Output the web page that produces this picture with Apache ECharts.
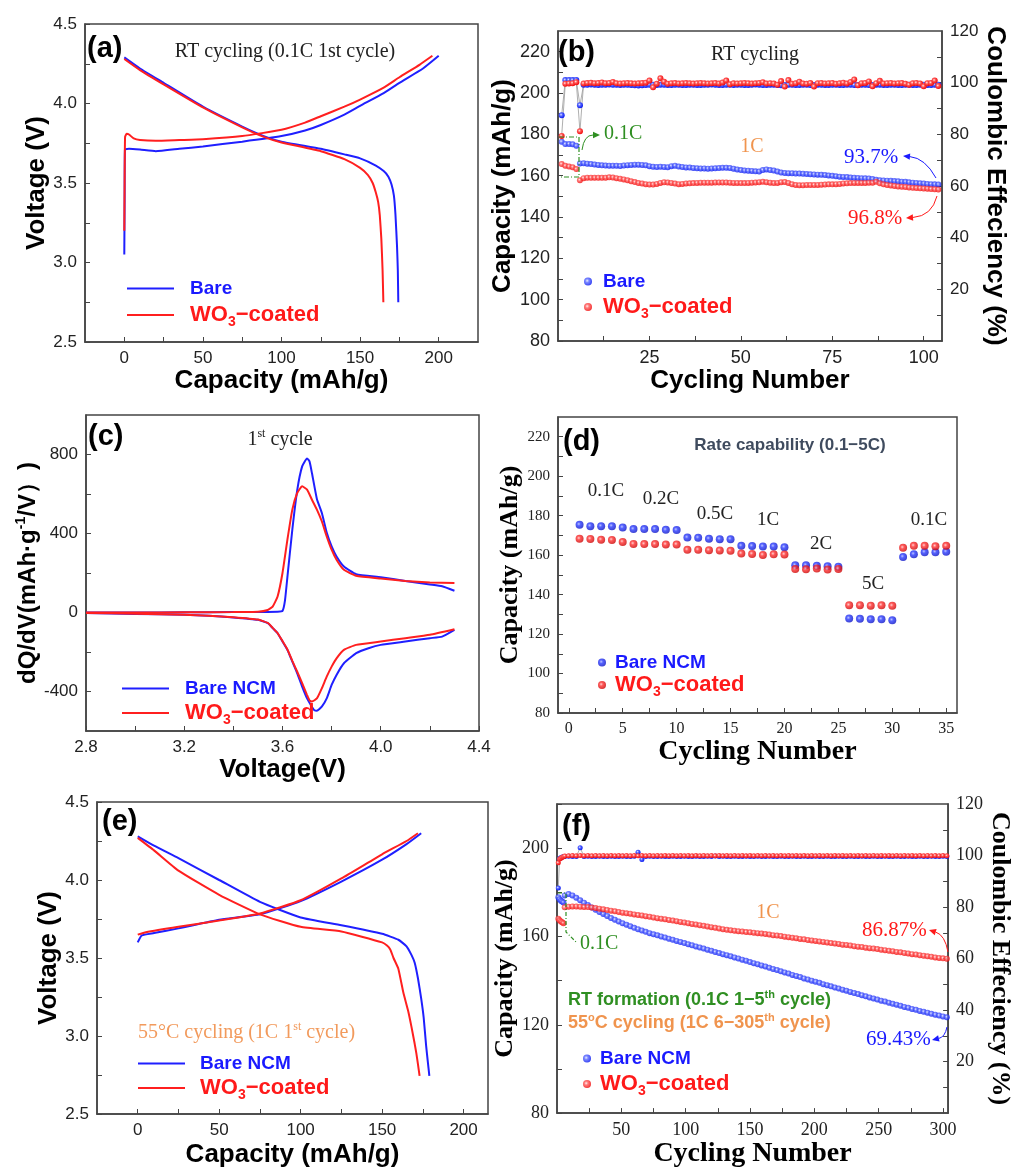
<!DOCTYPE html>
<html>
<head>
<meta charset="utf-8">
<script src="https://cdn.jsdelivr.net/npm/echarts/dist/echarts.min.js"></script>
<style>
html, body { margin: 0; padding: 0; background: #fff; }
#main { width: 1014px; height: 1169px; }
</style>
</head>
<body>
<div id="main"></div>
<script>
var SANS = 'Liberation Sans, Arial, sans-serif';
var SERIF = 'Liberation Serif, Times New Roman, serif';
var BLUE = '#1a1aff';
var RED = '#ff1a1a';
var GREEN = '#2f8f22';
var ORANGE = '#f0944e';

// (a) RT 0.1C first cycle, [capacity, voltage]
var aBareCharge = [[0,3.05],[0.2,3.40],[0.4,3.71],[3,3.715],[10,3.71],[20,3.70],[35,3.715],[50,3.73],[75,3.76],[100,3.795],[115,3.83],[125,3.865],[140,3.93],[150,3.985],[165,4.065],[175,4.13],[190,4.22],[200,4.30]];
var aWO3Charge = [[0,3.20],[0.2,3.50],[0.5,3.79],[1.5,3.81],[3,3.805],[6,3.78],[10,3.77],[20,3.765],[35,3.77],[50,3.775],[75,3.795],[100,3.835],[115,3.88],[125,3.92],[140,3.98],[150,4.025],[165,4.10],[175,4.165],[188,4.245],[196,4.30]];
var aBareDischarge = [[0,4.29],[10,4.22],[25,4.13],[50,3.98],[75,3.855],[90,3.79],[100,3.76],[125,3.715],[140,3.68],[150,3.655],[160,3.61],[165,3.575],[168,3.54],[170,3.49],[171.5,3.42],[172.5,3.30],[173.5,3.10],[174,2.95],[174.3,2.75]];
var aWO3Discharge = [[0,4.28],[10,4.21],[25,4.12],[50,3.975],[75,3.85],[90,3.785],[100,3.755],[125,3.70],[140,3.65],[150,3.595],[155,3.55],[158,3.50],[160,3.44],[161.5,3.38],[162.5,3.30],[163.5,3.15],[164.3,2.95],[164.8,2.75]];

// (b) RT cycling, cycles 1..104
var bBareCap = [176.4,175.3,175.3,175.2,174.5,
  165.9,166.0,165.8,165.6,165.4,
  165.2,165.0,164.9,164.8,164.8,164.8,164.7,164.9,165.1,165.2,
  165.3,165.3,165.2,165.0,164.6,164.3,164.2,164.3,164.2,164.1,
  164.6,164.8,164.4,164.2,164.0,163.9,163.7,163.6,163.5,163.5,
  163.4,163.5,163.6,163.7,163.8,163.8,163.7,163.4,163.0,162.7,
  162.5,162.4,162.3,162.1,162.0,162.7,163.0,162.7,162.5,162.0,
  161.5,161.3,161.2,161.2,161.0,161.0,160.9,160.8,160.7,160.6,
  160.5,160.4,160.3,160.1,159.9,159.7,159.5,159.4,159.3,159.1,
  159.0,158.9,158.8,158.7,158.6,158.4,158.0,157.8,157.7,157.6,
  157.5,157.4,157.3,157.1,157.0,156.8,156.6,156.5,156.3,156.2,
  156.0,155.9,155.8,155.7];
var bWO3Cap = [165.6,164.8,164.4,164.1,163.2,
  157.8,158.8,159.0,159.0,159.0,
  159.0,159.0,159.0,159.2,159.1,158.8,158.5,158.2,157.8,157.3,
  156.9,156.5,156.2,155.9,155.7,155.7,156.0,156.5,156.8,156.7,
  156.5,156.2,155.9,156.0,156.2,156.3,156.4,156.5,156.6,156.6,
  156.6,156.6,156.7,156.7,156.7,156.7,156.6,156.5,156.5,156.4,
  156.4,156.5,156.6,156.7,156.8,157.0,156.8,156.6,156.4,156.5,
  156.8,156.9,156.5,155.9,155.5,155.4,155.4,155.5,155.5,155.5,
  155.5,155.6,155.7,155.8,155.8,155.9,156.0,156.2,156.3,156.4,
  156.5,156.5,156.5,156.5,156.6,156.6,157.0,156.3,155.8,155.5,
  155.3,155.0,154.8,154.6,154.5,154.3,154.1,154.0,153.9,153.8,
  153.7,153.5,153.4,153.3];
var bBareCE = [87.4,101.0,101.0,101.0,101.0,91.3,
  99.2,99.2,99.3,99.2,99.1,99.2,99.2,99.3,99.2,99.2,
  99.1,99.2,99.2,99.1,99.0,98.9,99.0,99.1,99.2,99.2,
  99.1,99.2,99.2,99.1,99.1,99.2,99.2,99.1,99.1,99.2,
  99.2,99.1,99.1,99.2,99.2,99.3,99.2,99.1,99.1,99.2,
  99.2,99.1,99.2,99.2,99.1,99.1,99.2,99.3,99.2,99.1,
  99.1,99.2,99.2,99.1,99.0,99.1,99.2,99.2,99.1,99.1,
  99.2,99.2,99.1,99.1,99.2,99.2,99.1,99.1,99.2,99.2,
  99.1,99.1,99.2,99.2,99.1,99.1,99.2,99.2,99.1,99.1,
  99.2,99.2,99.1,99.1,99.2,99.2,99.1,99.1,99.2,99.2,
  99.1,99.1,99.2,99.2,99.1,99.1,99.2,99.2];
var bWO3CE = [79.4,99.6,99.7,99.8,100.2,81.2,
  99.7,99.9,100.0,99.8,99.9,100.1,99.8,99.9,100.3,99.8,
  99.7,99.8,99.9,99.8,99.7,99.8,99.9,100.0,100.8,98.2,
  99.6,101.7,100.4,99.6,99.8,99.9,99.7,99.8,99.9,99.8,
  99.7,99.8,99.9,99.8,99.7,99.8,99.9,99.7,100.1,100.8,
  99.4,99.8,99.7,99.8,99.9,99.8,99.7,99.8,99.9,100.2,
  99.7,99.8,99.7,99.2,100.6,98.5,101.0,99.6,99.8,100.4,
  99.7,99.6,99.9,98.5,99.8,99.9,99.7,99.8,99.9,99.6,
  99.8,100.0,99.7,100.3,101.2,99.0,99.8,99.9,100.5,98.6,
  99.8,100.7,99.7,99.8,99.9,99.7,99.8,99.9,99.6,99.2,
  99.8,99.9,99.7,98.6,99.8,99.9,100.8,98.7];

// (c) dQ/dV first cycle, [voltage, dQ/dV]
var cBareCharge = [[2.8,0],[3.0,0],[3.2,1],[3.4,2],[3.5,3],[3.58,4],[3.60,8],[3.61,60],[3.62,180],[3.64,420],[3.66,620],[3.68,740],[3.70,780],[3.71,765],[3.72,705],[3.74,575],[3.76,505],[3.78,405],[3.80,335],[3.82,284],[3.85,233],[3.90,194],[4.00,179],[4.10,160],[4.20,142],[4.25,133],[4.30,110]];
var cWO3Charge = [[2.8,0],[3.0,0],[3.2,1],[3.4,2],[3.5,4],[3.54,13],[3.56,30],[3.58,81],[3.60,200],[3.62,369],[3.64,521],[3.66,605],[3.68,639],[3.70,622],[3.72,571],[3.74,521],[3.76,462],[3.78,385],[3.80,318],[3.82,267],[3.85,216],[3.90,186],[4.00,172],[4.10,160],[4.20,152],[4.30,149]];
var cBareDischarge = [[4.30,-88],[4.25,-122],[4.20,-130],[4.10,-147],[4.00,-164],[3.95,-181],[3.90,-206],[3.85,-257],[3.82,-316],[3.80,-367],[3.78,-435],[3.76,-477],[3.74,-497],[3.73,-495],[3.72,-478],[3.70,-435],[3.68,-375],[3.66,-308],[3.64,-249],[3.62,-189],[3.60,-147],[3.58,-105],[3.56,-79],[3.54,-54],[3.50,-37],[3.40,-25],[3.30,-17],[3.20,-12],[3.00,-7],[2.80,-3]];
var cWO3Discharge = [[4.30,-85],[4.20,-113],[4.10,-130],[4.00,-147],[3.90,-164],[3.85,-189],[3.82,-232],[3.80,-274],[3.78,-325],[3.76,-384],[3.74,-435],[3.72,-451],[3.71,-445],[3.70,-418],[3.68,-358],[3.66,-300],[3.64,-245],[3.62,-187],[3.60,-145],[3.58,-104],[3.56,-78],[3.54,-53],[3.50,-36],[3.40,-24],[3.30,-16],[3.20,-11],[3.00,-6],[2.80,-2]];

// (d) rate capability, cycles 1..35
var dBareCap = [175.4,174.7,174.7,174.7,174.0,173.2,173.2,173.2,172.8,172.7,
  168.9,168.8,168.3,168.1,168.1,164.7,164.6,164.4,164.4,164.0,
  154.9,154.9,154.6,154.4,154.1,127.9,127.7,127.5,127.5,127.0,
  159.1,160.5,161.5,161.5,161.7];
var dWO3Cap = [168.3,168.2,167.8,167.7,166.7,165.7,165.6,165.6,165.4,165.4,
  162.7,162.7,162.5,162.4,162.2,160.8,160.6,160.1,160.4,160.3,
  153.0,152.9,153.2,152.7,153.0,134.6,134.6,134.4,134.6,134.3,
  163.7,164.7,164.7,164.5,164.7];
var dRateNames = ['0.1C','0.2C','0.5C','1C','2C','5C','0.1C'];

// (e) 55 C, 1C first cycle, [capacity, voltage]
var eBareCharge = [[0,3.60],[2.5,3.645],[10,3.66],[25,3.69],[50,3.745],[75,3.78],[100,3.865],[125,3.99],[150,4.13],[165,4.23],[174,4.30]];
var eWO3Charge = [[0,3.65],[5,3.665],[25,3.70],[50,3.74],[75,3.785],[100,3.87],[125,4.01],[150,4.165],[165,4.25],[172,4.30]];
var eBareDischarge = [[0,4.28],[10,4.22],[25,4.14],[50,4.00],[75,3.86],[100,3.76],[125,3.71],[150,3.655],[160,3.617],[165,3.575],[168,3.52],[170,3.47],[172,3.37],[174,3.24],[175.5,3.12],[177,2.94],[178,2.84],[179,2.745]];
var eWO3Discharge = [[0,4.27],[10,4.19],[25,4.06],[50,3.905],[75,3.78],[100,3.70],[125,3.67],[150,3.60],[153,3.58],[155,3.555],[157,3.50],[160,3.43],[163,3.28],[166,3.16],[168,3.06],[170,2.95],[171,2.89],[172,2.82],[173,2.745]];

// (f) 55 C long cycling
var fCycles = [1,2,3,4,5,
  6,9,12,15,18,21,24,27,30,33,36,39,42,45,48,51,54,57,60,63,
  66,69,72,75,78,81,84,87,90,93,96,99,102,105,108,111,114,117,120,123,
  126,129,132,135,138,141,144,147,150,153,156,159,162,165,168,171,174,177,180,183,
  186,189,192,195,198,201,204,207,210,213,216,219,222,225,228,231,234,237,240,243,
  246,249,252,255,258,261,264,267,270,273,276,279,282,285,288,291,294,297,300,303];
var fBareCap = [177.8,176.9,176.2,175.8,175.4,
  178.6,179.2,178.6,177.5,176.4,175.3,174.2,173.1,172.1,171.1,170.2,169.3,168.4,167.6,166.8,166.0,165.3,164.6,163.9,163.3,
  162.7,162.1,161.5,161.0,160.5,160.0,159.5,159.0,158.5,158.0,157.5,157.0,156.5,156.0,155.5,155.0,154.5,154.0,153.5,153.0,
  152.5,152.0,151.5,151.0,150.5,150.0,149.5,149.0,148.4,147.9,147.4,146.9,146.4,145.8,145.3,144.8,144.2,143.7,143.2,142.6,
  142.1,141.6,141.0,140.5,140.0,139.5,139.0,138.4,137.9,137.4,136.9,136.4,135.9,135.4,134.9,134.4,133.9,133.4,132.9,132.4,
  131.9,131.4,130.9,130.5,130.0,129.5,129.1,128.6,128.1,127.7,127.2,126.8,126.3,125.9,125.5,125.0,124.6,124.2,123.8,123.4];
var fWO3Cap = [168.0,167.3,166.8,166.4,166.0,
  173.2,173.5,173.6,173.6,173.5,173.4,173.3,173.1,172.9,172.6,172.3,172.0,171.7,171.4,171.1,170.8,170.5,170.3,170.0,169.7,
  169.5,169.2,168.9,168.6,168.3,168.0,167.8,167.5,167.2,166.9,166.6,166.3,166.0,165.7,165.4,165.1,164.8,164.5,164.2,163.9,
  163.6,163.3,163.0,162.8,162.6,162.4,162.2,162.0,161.9,161.7,161.5,161.3,161.1,160.9,160.6,160.4,160.2,159.9,159.7,159.4,
  159.2,158.9,158.7,158.4,158.2,158.0,157.7,157.5,157.3,157.0,156.8,156.6,156.3,156.1,155.9,155.6,155.4,155.2,154.9,154.7,
  154.5,154.3,154.0,153.8,153.5,153.3,153.0,152.8,152.5,152.3,152.0,151.8,151.5,151.3,151.0,150.8,150.5,150.3,150.1,149.9];
var fBareCE = [87.4,98.8,99.2,99.4,99.5,
  99.6,99.7,99.6,99.6,103.0,99.6,99.7,99.6,99.6,99.7,99.6,99.6,99.7,99.6,99.6,99.7,99.6,99.6,99.7,101.3,
  98.5,99.6,99.7,99.6,99.6,99.7,99.6,99.6,99.7,99.6,99.6,99.7,99.6,99.6,99.7,99.6,99.6,99.7,99.6,99.8,
  99.6,99.7,99.6,99.6,99.7,99.6,99.6,99.7,99.6,99.6,99.7,99.6,99.6,99.7,99.6,99.6,99.7,99.6,99.6,99.7,
  99.6,99.6,99.7,99.6,99.6,99.7,99.6,99.6,99.7,99.6,99.6,99.7,99.6,99.6,99.7,99.6,99.6,99.7,99.6,99.6,
  99.7,99.6,99.6,99.7,99.6,99.6,99.7,99.6,99.6,99.7,99.6,99.6,99.7,99.6,99.6,99.7,99.6,99.6,99.7,99.6];
var fWO3CE = [97.2,98.6,98.9,99.3,99.5,
  99.8,99.9,100.0,99.9,100.0,99.9,100.0,99.9,100.0,99.9,100.0,99.9,100.0,99.9,100.0,99.9,100.0,99.9,100.0,99.9,
  100.0,99.9,100.0,99.9,100.0,99.9,100.0,99.9,100.0,99.9,100.0,99.9,100.0,99.9,100.0,99.9,100.0,99.9,100.0,99.9,
  100.0,99.9,100.0,99.9,100.0,99.9,100.0,99.9,100.0,99.9,100.0,99.9,100.0,99.9,100.0,99.9,100.0,99.9,100.0,99.9,
  100.0,99.9,100.0,99.9,100.0,99.9,100.0,99.9,100.0,99.9,100.0,99.9,100.0,99.9,100.0,99.9,100.0,99.9,100.0,99.9,
  100.0,99.9,100.0,99.9,100.0,99.9,100.0,99.9,100.0,99.9,100.0,99.9,100.0,99.9,100.0,99.9,100.0,99.9,100.0,99.9];

function fixed1(v) { return v.toFixed(1); }
function plain(v) { return String(v); }

function axis(kind, grid, min, max, labels, ticks, fam, size, name, nameSize, gap, fmt, pos) {
    var a = {
        type: 'value',
        gridIndex: grid,
        min: min,
        max: max,
        name: name,
        nameLocation: 'middle',
        nameGap: gap,
        nameTextStyle: { fontFamily: fam, fontWeight: 'bold', fontSize: nameSize, color: '#000' },
        axisLine: { show: true, onZero: false, lineStyle: { color: '#444', width: 1.5 } },
        axisTick: { show: true, inside: true, length: 5, customValues: ticks, lineStyle: { color: '#444', width: 1 } },
        axisLabel: { customValues: labels, fontFamily: fam, fontSize: size, color: '#222', margin: 8, formatter: fmt || plain },
        splitLine: { show: false }
    };
    if (pos) a.position = pos;
    if (kind === 'y') a.nameRotate = (pos === 'right') ? -90 : 90;
    return a;
}

function ball(c0, c1, c2) {
    return new echarts.graphic.RadialGradient(0.4, 0.4, 0.65, [
        { offset: 0, color: c0 }, { offset: 0.35, color: c1 }, { offset: 1, color: c2 }
    ]);
}
var blueBall = function () { return ball('#e4e8ff', '#5a6aff', '#0010f0'); };
var redBall = function () { return ball('#ffecec', '#ff5a5a', '#f00000'); };
var blueSphere = function () { return ball('#aab4ff', '#2a3aff', '#0a12c0'); };
var redSphere = function () { return ball('#ffc4c4', '#ff3030', '#c80000'); };

function curve(name, xi, yi, data, color) {
    return { name: name, type: 'line', xAxisIndex: xi, yAxisIndex: yi, data: data, symbol: 'none',
        smooth: 0.15, lineStyle: { color: color, width: 2 }, itemStyle: { color: color }, z: 3 };
}
function dots(name, xi, yi, data, fill, size, joined) {
    var s = { name: name, type: joined ? 'line' : 'scatter', xAxisIndex: xi, yAxisIndex: yi, data: data,
        symbol: 'circle', symbolSize: size, itemStyle: { color: fill }, z: 3 };
    if (joined) {
        s.showAllSymbol = true;
        s.lineStyle = { color: '#9a9a9a', width: 0.8 };
    }
    return s;
}
function byCycle(values) {
    return values.map(function (v, i) { return [i + 1, v]; });
}
function withCycles(cycles, values) {
    return values.map(function (v, i) { return [cycles[i], v]; });
}

var legendRich = function (pad, size1) {
    return {
        g: { width: pad },
        bb: { fontFamily: SANS, fontWeight: 'bold', fontSize: size1, color: BLUE, lineHeight: 28 },
        rr: { fontFamily: SANS, fontWeight: 'bold', fontSize: 22, color: RED, lineHeight: 28 },
        rs: { fontFamily: SANS, fontWeight: 'bold', fontSize: 14, color: RED, lineHeight: 14, verticalAlign: 'bottom' }
    };
};
function legendItem(name, left, top, isLine, label, pad) {
    var text = label === 'WO3'
        ? '{g| }{rr|WO}{rs|3}{rr|\u2212coated}'
        : '{g| }{bb|' + label + '}';
    var l = {
        data: [name], left: left, top: top, padding: 0, orient: 'horizontal',
        selectedMode: false,
        icon: isLine ? 'rect' : 'circle',
        itemWidth: isLine ? 47 : 8, itemHeight: isLine ? 2 : 8,
        formatter: function () { return text; },
        textStyle: { rich: legendRich(pad, 19) }
    };
    return l;
}

function gtext(x, y, text, opt) {
    var st = { text: text, fill: '#000', align: 'left', verticalAlign: 'middle', fontFamily: SANS, fontSize: 16 };
    for (var k in opt) st[k] = opt[k];
    return { type: 'text', x: x, y: y, silent: true, z: 10, style: st };
}
function supRich(fam, size, weight, color) {
    return {
        a: { fontFamily: fam, fontSize: size, fontWeight: weight, fill: color, lineHeight: size + 4 },
        s: { fontFamily: fam, fontSize: Math.round(size * 0.6), fontWeight: weight, fill: color, lineHeight: Math.round(size * 0.6), verticalAlign: 'top' }
    };
}
function arrow(x1, y1, cx, cy, x2, y2, color) {
    var dx = x2 - cx, dy = y2 - cy, len = Math.sqrt(dx * dx + dy * dy);
    dx /= len; dy /= len;
    var bx = x2 - dx * 7, by = y2 - dy * 7;
    return [
        { type: 'bezierCurve', silent: true, z: 10, shape: { x1: x1, y1: y1, cpx1: cx, cpy1: cy, x2: bx, y2: by },
          style: { stroke: color, lineWidth: 1, fill: null } },
        { type: 'polygon', silent: true, z: 10, shape: { points: [[x2, y2], [bx - dy * 3.2, by + dx * 3.2], [bx + dy * 3.2, by - dx * 3.2]] },
          style: { fill: color } }
    ];
}

var labelsA = [2.5, 3.0, 3.5, 4.0, 4.5];
var ticksA = [2.5, 2.75, 3.0, 3.25, 3.5, 3.75, 4.0, 4.25, 4.5];
var capLabels = [0, 50, 100, 150, 200];
var capTicks = [0, 25, 50, 75, 100, 125, 150, 175, 200];

var chart = echarts.init(document.getElementById('main'));

var graphics = [
    gtext(87, 49, '(a)', { fontSize: 29, fontWeight: 'bold' }),
    gtext(558, 53, '(b)', { fontSize: 29, fontWeight: 'bold' }),
    gtext(88, 437, '(c)', { fontSize: 29, fontWeight: 'bold' }),
    gtext(563, 442, '(d)', { fontSize: 29, fontWeight: 'bold' }),
    gtext(102, 822, '(e)', { fontSize: 29, fontWeight: 'bold' }),
    gtext(562, 827, '(f)', { fontSize: 29, fontWeight: 'bold' }),
    gtext(285, 52, 'RT cycling (0.1C 1st cycle)', { fontFamily: SERIF, fontSize: 20, align: 'center', fill: '#222' }),
    gtext(755, 55, 'RT cycling', { fontFamily: SERIF, fontSize: 20, align: 'center', fill: '#222' }),
    gtext(604, 134, '0.1C', { fontFamily: SERIF, fontSize: 20, fill: GREEN }),
    gtext(752, 147, '1C', { fontFamily: SERIF, fontSize: 20, align: 'center', fill: ORANGE }),
    gtext(844, 157, '93.7%', { fontFamily: SERIF, fontSize: 21, fill: BLUE }),
    gtext(848, 218, '96.8%', { fontFamily: SERIF, fontSize: 21, fill: RED }),
    gtext(280, 440, '{a|1}{s|st}{a| cycle}', { align: 'center', rich: supRich(SERIF, 20, 'normal', '#222') }),
    gtext(790, 445, 'Rate capability (0.1\u22125C)', { fontWeight: 'bold', fontSize: 17, align: 'center', fill: '#3f4b5e' }),
    gtext(138, 1033, '{a|55\u00b0C cycling (1C 1}{s|st}{a| cycle)}', { rich: supRich(SERIF, 20, 'normal', '#f29a5c') }),
    gtext(580, 944, '0.1C', { fontFamily: SERIF, fontSize: 20, fill: GREEN }),
    gtext(768, 913, '1C', { fontFamily: SERIF, fontSize: 20, align: 'center', fill: ORANGE }),
    gtext(862, 930, '86.87%', { fontFamily: SERIF, fontSize: 21, fill: RED }),
    gtext(866, 1039, '69.43%', { fontFamily: SERIF, fontSize: 21, fill: BLUE }),
    gtext(568, 1000, '{a|RT formation (0.1C 1\u22125}{s|th}{a| cycle)}', { rich: supRich(SANS, 18, 'bold', GREEN) }),
    gtext(568, 1023, '{a|55}{s|o}{a|C cycling (1C 6\u2212305}{s|th}{a| cycle)}', { rich: supRich(SANS, 18, 'bold', ORANGE) }),
    { type: 'polyline', silent: true, z: 9, shape: { points: [[559, 137], [579, 137], [579, 177], [559, 177]] },
      style: { stroke: GREEN, lineWidth: 1.2, lineDash: [5, 2, 1, 2], fill: null } },
    { type: 'polyline', silent: true, z: 9, shape: { points: [[558, 893], [566, 893], [566, 932], [576, 942]] },
      style: { stroke: GREEN, lineWidth: 1.2, lineDash: [4, 2, 1, 2], fill: null } }
];
graphics = graphics
    .concat(arrow(582, 150, 584, 135, 600, 135, GREEN))
    .concat(arrow(936, 178, 925, 158, 903, 156, BLUE))
    .concat(arrow(937, 196, 932, 216, 906, 218, RED))
    .concat(arrow(948, 952, 945, 935, 929, 930, RED))
    .concat(arrow(947, 1027, 945, 1037, 932, 1040, BLUE));

// rate labels in (d)
var ratePos = [[606, 491], [661, 499], [715, 514], [768, 520], [821, 544], [873, 584], [929, 520]];
dRateNames.forEach(function (n, i) {
    graphics.push(gtext(ratePos[i][0], ratePos[i][1], n, { fontFamily: SERIF, fontSize: 19, align: 'center', fill: '#222' }));
});

var option = {
    animation: false,
    backgroundColor: '#fff',
    grid: [
        { left: 85, top: 24, width: 393, height: 318 },
        { left: 558, top: 31, width: 384, height: 310 },
        { left: 86, top: 415, width: 393, height: 316 },
        { left: 558, top: 417, width: 399, height: 296 },
        { left: 97, top: 802, width: 391, height: 313 },
        { left: 557, top: 804, width: 394, height: 312 }
    ].map(function (g) {
        g.show = true; g.borderColor = '#444'; g.borderWidth = 1.5; g.containLabel = false;
        return g;
    }),
    xAxis: [
        axis('x', 0, -25, 225, capLabels, capTicks, SANS, 17, 'Capacity (mAh/g)', 26, 25),
        axis('x', 1, 0, 105, [25, 50, 75, 100], [12.5, 25, 37.5, 50, 62.5, 75, 87.5, 100], SANS, 18, 'Cycling Number', 26, 27),
        axis('x', 2, 2.8, 4.4, [2.8, 3.2, 3.6, 4.0, 4.4], [2.8, 3.0, 3.2, 3.4, 3.6, 3.8, 4.0, 4.2, 4.4], SANS, 17, 'Voltage(V)', 26, 23, fixed1),
        axis('x', 3, -1, 36, [0, 5, 10, 15, 20, 25, 30, 35], [0, 2.5, 5, 7.5, 10, 12.5, 15, 17.5, 20, 22.5, 25, 27.5, 30, 32.5, 35], SERIF, 16, 'Cycling Number', 28, 23),
        axis('x', 4, -25, 215, capLabels, capTicks, SANS, 17, 'Capacity (mAh/g)', 26, 28),
        axis('x', 5, 0, 304, [50, 100, 150, 200, 250, 300], [25, 50, 75, 100, 125, 150, 175, 200, 225, 250, 275, 300], SERIF, 18, 'Cycling Number', 28, 24)
    ],
    yAxis: [
        axis('y', 0, 2.5, 4.5, labelsA, ticksA, SANS, 17, 'Voltage (V)', 26, 35, fixed1),
        axis('y', 1, 80, 230, [80, 100, 120, 140, 160, 180, 200, 220], [80, 90, 100, 110, 120, 130, 140, 150, 160, 170, 180, 190, 200, 210, 220], SANS, 18, 'Capacity (mAh/g)', 26, 37),
        axis('y', 1, 0, 120, [20, 40, 60, 80, 100, 120], [10, 20, 30, 40, 50, 60, 70, 80, 90, 100, 110], SANS, 17, 'Coulombic Effeciency (%)', 26, 37, null, 'right'),
        axis('y', 2, -600, 1000, [-400, 0, 400, 800], [-400, -200, 0, 200, 400, 600, 800], SANS, 17, '', 24, 44),
        axis('y', 3, 80, 230, [80, 100, 120, 140, 160, 180, 200, 220], [80, 90, 100, 110, 120, 130, 140, 150, 160, 170, 180, 190, 200, 210, 220], SERIF, 15, 'Capacity (mAh/g)', 26, 33),
        axis('y', 4, 2.5, 4.5, labelsA, ticksA, SANS, 17, 'Voltage (V)', 26, 35, fixed1),
        axis('y', 5, 80, 220, [80, 120, 160, 200], [80, 100, 120, 140, 160, 180, 200, 220], SERIF, 18, 'Capacity (mAh/g)', 26, 36),
        axis('y', 5, 0, 120, [20, 40, 60, 80, 100, 120], [10, 20, 30, 40, 50, 60, 70, 80, 90, 100, 110], SERIF, 18, 'Coulombic Effeciency (%)', 26, 38, null, 'right')
    ],
    legend: [
        legendItem('aBare', 127, 279, true, 'Bare', 11),
        legendItem('aWO3', 127, 304, true, 'WO3', 11),
        legendItem('bBare', 584, 272, false, 'Bare', 6),
        legendItem('bWO3', 584, 296, false, 'WO3', 6),
        legendItem('cBare', 122, 679, true, 'Bare NCM', 11),
        legendItem('cWO3', 122, 702, true, 'WO3', 11),
        legendItem('dBare', 598, 653, false, 'Bare NCM', 4),
        legendItem('dWO3', 598, 674, false, 'WO3', 4),
        legendItem('eBare', 138, 1054, true, 'Bare NCM', 10),
        legendItem('eWO3', 138, 1077, true, 'WO3', 10),
        legendItem('fBare', 583, 1049, false, 'Bare NCM', 4),
        legendItem('fWO3', 583, 1073, false, 'WO3', 4)
    ],
    graphic: graphics,
    series: [
        curve('aBare', 0, 0, aBareCharge, '#1f1fff'),
        curve('aBare', 0, 0, aBareDischarge, '#1f1fff'),
        curve('aWO3', 0, 0, aWO3Charge, '#ff1f1f'),
        curve('aWO3', 0, 0, aWO3Discharge, '#ff1f1f'),

        dots('bBare', 1, 1, byCycle(bBareCap), blueBall(), 6, false),
        dots('bWO3', 1, 1, byCycle(bWO3Cap), redBall(), 6, false),
        dots('bBare', 1, 2, byCycle(bBareCE), blueBall(), 6, true),
        dots('bWO3', 1, 2, byCycle(bWO3CE), redBall(), 6, true),

        curve('cBare', 2, 3, cBareCharge, '#1f1fff'),
        curve('cBare', 2, 3, cBareDischarge, '#1f1fff'),
        curve('cWO3', 2, 3, cWO3Charge, '#ff1f1f'),
        curve('cWO3', 2, 3, cWO3Discharge, '#ff1f1f'),

        dots('dBare', 3, 4, byCycle(dBareCap), blueSphere(), 8, false),
        dots('dWO3', 3, 4, byCycle(dWO3Cap), redSphere(), 8, false),

        curve('eBare', 4, 5, eBareCharge, '#1f1fff'),
        curve('eBare', 4, 5, eBareDischarge, '#1f1fff'),
        curve('eWO3', 4, 5, eWO3Charge, '#ff1f1f'),
        curve('eWO3', 4, 5, eWO3Discharge, '#ff1f1f'),

        dots('fBare', 5, 6, withCycles(fCycles, fBareCap), blueBall(), 6, false),
        dots('fWO3', 5, 6, withCycles(fCycles, fWO3Cap), redBall(), 6, false),
        dots('fBare', 5, 7, withCycles(fCycles, fBareCE), blueBall(), 5, true),
        dots('fWO3', 5, 7, withCycles(fCycles, fWO3CE), redBall(), 5, true)
    ]
};

// rich axis name for (c)
option.yAxis[3].name = '{t|dQ/dV(mAh\u00b7g}{s|-1}{t|/V\uff09)}';
option.yAxis[3].nameTextStyle.rich = {
    t: { fontFamily: SANS, fontWeight: 'bold', fontSize: 24, color: '#000', lineHeight: 28 },
    s: { fontFamily: SANS, fontWeight: 'bold', fontSize: 14, color: '#000', lineHeight: 14, verticalAlign: 'top' }
};

chart.setOption(option);
window.addEventListener('resize', function () { chart.resize(); });
</script>
</body>
</html>
